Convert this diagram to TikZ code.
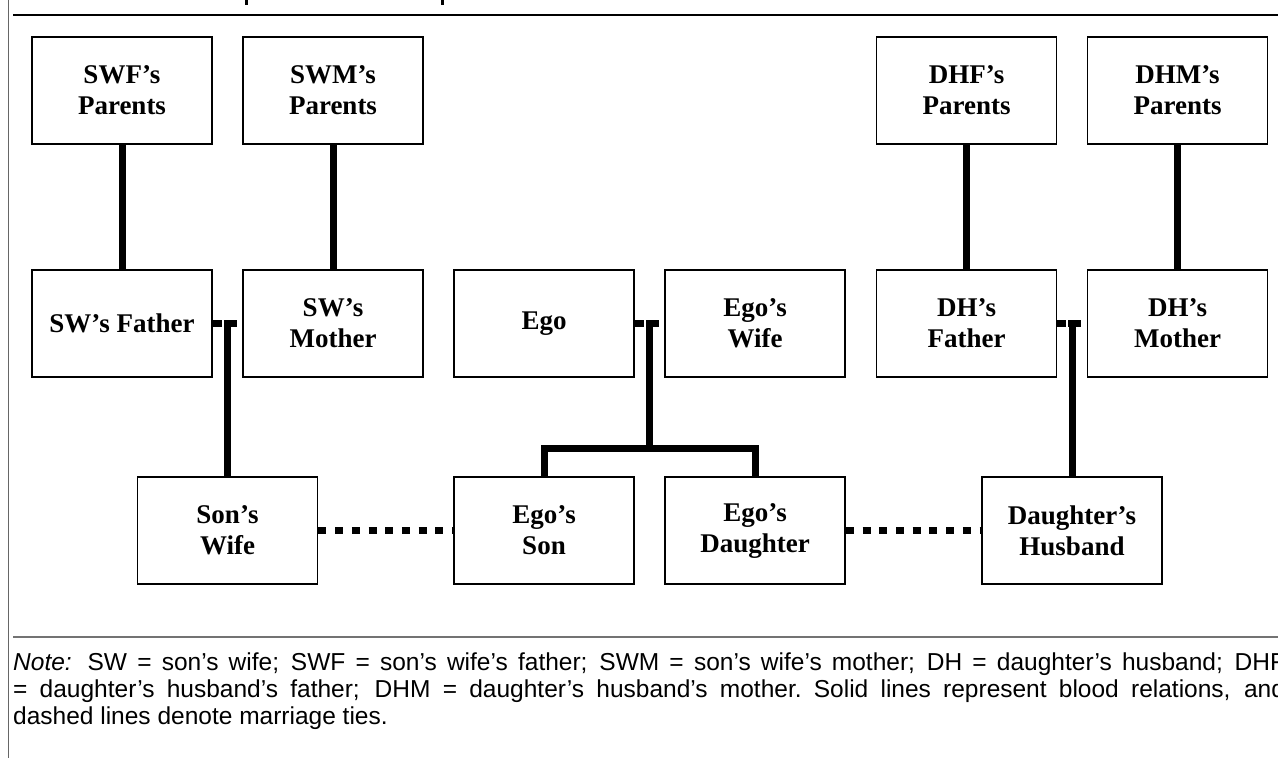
\documentclass[tikz,border=0pt]{standalone}
\usepackage{fontspec}
\setmainfont{Liberation Serif}
\newfontfamily\notefont{Liberation Sans}
\usetikzlibrary{calc}
\begin{document}
\begin{tikzpicture}[x=1pt,y=-1pt,
  person/.style={draw, line width=1.8pt, minimum width=180pt, minimum height=107pt,
    inner sep=0pt, align=center, font=\bfseries\fontsize{27pt}{31pt}\selectfont},
  blood/.style={line width=7pt},
  wed/.style={line width=6.5pt, dash pattern=on 9pt off 2pt on 13pt off 20pt},
  tie/.style={line width=7.5pt, dash pattern=on 8pt off 8.7pt},
  notetext/.style={anchor=base west, inner sep=0pt, font=\notefont\fontsize{24.5pt}{28pt}\selectfont}
]
\useasboundingbox (0,0) rectangle (1278,758);
\clip (0,0) rectangle (1278,758);
\fill[white] (0,0) rectangle (1278,758);

% frame lines
\draw[black!60, line width=1pt] (8,0) -- (8,758);
\draw[line width=1.5pt] (13,15) -- (1278,15);
\draw[black!55, line width=1.6pt] (13,637) -- (1278,637);
% remnants of the cut-off title
\fill (245,0) rectangle (248,4.5);
\fill (441,0) rectangle (444,4.5);

% persons
\node[person] (swfp) at (122,90.5) {SWF’s\\Parents};
\node[person] (swmp) at (333,90.5) {SWM’s\\Parents};
\node[person] (dhfp) at (966.5,90.5) {DHF’s\\Parents};
\node[person] (dhmp) at (1177.5,90.5) {DHM’s\\Parents};

\node[person] (swf) at (122,323.5) {SW’s Father};
\node[person] (swm) at (333,323.5) {SW’s\\Mother};
\node[person] (ego) at (544,323.5) {Ego};
\node[person] (egow) at (755,323.5) {Ego’s\\Wife};
\node[person] (dhf) at (966.5,323.5) {DH’s\\Father};
\node[person] (dhm) at (1177.5,323.5) {DH’s\\Mother};

\node[person] (sonw) at (227.5,530.5) {Son’s\\Wife};
\node[person] (son) at (544,530.5) {Ego’s\\Son};
\node[person] (dau) at (755,530.5) {Ego’s\\Daughter};
\node[person] (dhus) at (1072,530.5) {Daughter’s\\Husband};

% blood lines to parents
\draw[blood] (swfp.south) -- (swf.north);
\draw[blood] (swmp.south) -- (swm.north);
\draw[blood] (dhfp.south) -- (dhf.north);
\draw[blood] (dhmp.south) -- (dhm.north);

% marriages
\draw[wed] (swf.east) -- (swm.west);
\draw[wed] (ego.east) -- (egow.west);
\draw[wed] (dhf.east) -- (dhm.west);

% children
\draw[blood] ([yshift=3pt]sonw.north |- swf.east) -- (sonw.north);
\draw[blood] ([yshift=3pt]dhus.north |- dhf.east) -- (dhus.north);
\coordinate (em) at ($(ego.east)!0.5!(egow.west)$);
\coordinate (fork) at ($(em)+(0,124.5)$);
\draw[blood] ([yshift=3pt]em) -- (fork);
\draw[blood] (son.north) |- (fork) -| (dau.north);

% marriage ties of children
\draw[tie] (sonw.east) -- (son.west);
\draw[tie] (dau.east) -- (dhus.west);

% note
\node[notetext] (n1) at (13,670) {\makebox[1272pt][s]{\textit{Note:} SW = son’s wife; SWF = son’s wife’s father; SWM = son’s wife’s mother; DH = daughter’s husband; DHF}};
\node[notetext] (n2) at (13,697) {\makebox[1272pt][s]{= daughter’s husband’s father; DHM = daughter’s husband’s mother.\ Solid lines represent blood relations, and}};
\node[notetext] (n3) at (13,724) {dashed lines denote marriage ties.};
\end{tikzpicture}
\end{document}
